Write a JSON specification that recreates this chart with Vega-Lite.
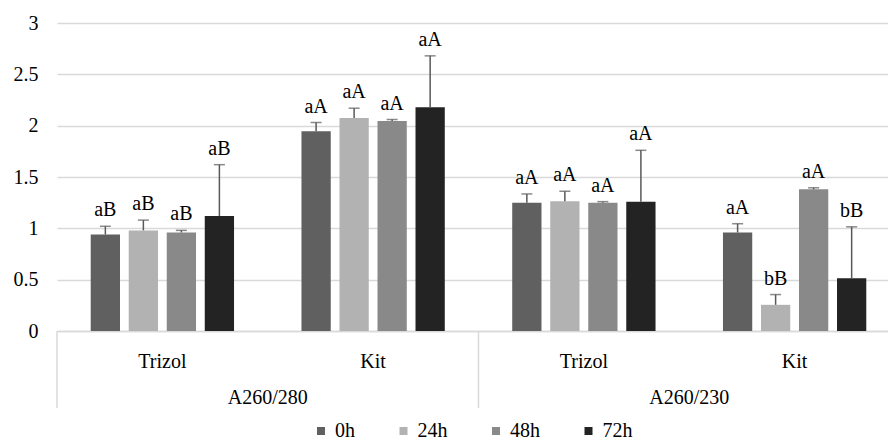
{
  "$schema": "https://vega.github.io/schema/vega-lite/v6.json",
  "width": 831,
  "height": 308,
  "autosize": {"type": "none"},
  "padding": {"left": 57, "top": 23, "right": 0, "bottom": 114},
  "background": "white",
  "config": {
    "font": "Liberation Serif, Times New Roman, serif",
    "view": {"stroke": null},
    "axis": {"labelFont": "Liberation Serif, Times New Roman, serif", "labelFontSize": 20, "labelColor": "#000000"},
    "legend": {"labelFont": "Liberation Serif, Times New Roman, serif", "labelFontSize": 20, "labelColor": "#000000"},
    "text": {"font": "Liberation Serif, Times New Roman, serif"}
  },
  "layer": [
    {
      "data": {
        "values": [
          {"group": "A260/280", "method": "Trizol", "time": "0h", "value": 0.94, "err": 1.02, "label": "aB"},
          {"group": "A260/280", "method": "Trizol", "time": "24h", "value": 0.98, "err": 1.08, "label": "aB"},
          {"group": "A260/280", "method": "Trizol", "time": "48h", "value": 0.96, "err": 0.98, "label": "aB"},
          {"group": "A260/280", "method": "Trizol", "time": "72h", "value": 1.12, "err": 1.62, "label": "aB"},
          {"group": "A260/280", "method": "Kit", "time": "0h", "value": 1.945, "err": 2.03, "label": "aA"},
          {"group": "A260/280", "method": "Kit", "time": "24h", "value": 2.075, "err": 2.17, "label": "aA"},
          {"group": "A260/280", "method": "Kit", "time": "48h", "value": 2.045, "err": 2.06, "label": "aA"},
          {"group": "A260/280", "method": "Kit", "time": "72h", "value": 2.18, "err": 2.68, "label": "aA"},
          {"group": "A260/230", "method": "Trizol", "time": "0h", "value": 1.25, "err": 1.335, "label": "aA"},
          {"group": "A260/230", "method": "Trizol", "time": "24h", "value": 1.265, "err": 1.36, "label": "aA"},
          {"group": "A260/230", "method": "Trizol", "time": "48h", "value": 1.25, "err": 1.26, "label": "aA"},
          {"group": "A260/230", "method": "Trizol", "time": "72h", "value": 1.26, "err": 1.76, "label": "aA"},
          {"group": "A260/230", "method": "Kit", "time": "0h", "value": 0.96, "err": 1.045, "label": "aA"},
          {"group": "A260/230", "method": "Kit", "time": "24h", "value": 0.255, "err": 0.355, "label": "bB"},
          {"group": "A260/230", "method": "Kit", "time": "48h", "value": 1.38, "err": 1.395, "label": "aA"},
          {"group": "A260/230", "method": "Kit", "time": "72h", "value": 0.515, "err": 1.015, "label": "bB"}
        ]
      },
      "transform": [{"calculate": "datum.group + '|' + datum.method", "as": "cat"}],
      "encoding": {
        "x": {
          "field": "cat",
          "type": "nominal",
          "sort": ["A260/280|Trizol", "A260/280|Kit", "A260/230|Trizol", "A260/230|Kit"],
          "scale": {"range": [0, 843], "paddingInner": 0, "paddingOuter": 0},
          "axis": {
            "title": null,
            "labelExpr": "split(datum.label, '|')[1]",
            "labelAngle": 0,
            "ticks": false,
            "domainColor": "#d9d9d9",
            "domainWidth": 1.5,
            "labelPadding": 20
          }
        },
        "xOffset": {
          "field": "time",
          "type": "nominal",
          "sort": ["0h", "24h", "48h", "72h"],
          "scale": {"paddingInner": 0.23, "paddingOuter": 0.887}
        }
      },
      "layer": [
        {
          "mark": {"type": "bar"},
          "encoding": {
            "y": {
              "field": "value",
              "type": "quantitative",
              "scale": {"domain": [0, 3], "nice": false},
              "axis": {
                "title": null,
                "values": [0, 0.5, 1, 1.5, 2, 2.5, 3],
                "format": "~g",
                "domain": false,
                "ticks": false,
                "grid": true,
                "gridColor": "#d9d9d9",
                "gridWidth": 1.3,
                "labelPadding": 19
              }
            },
            "color": {
              "field": "time",
              "type": "nominal",
              "sort": ["0h", "24h", "48h", "72h"],
              "scale": {"domain": ["0h", "24h", "48h", "72h"], "range": ["#606060", "#b2b2b2", "#898989", "#232323"]},
              "legend": {
                "orient": "none",
                "legendX": 254,
                "legendY": 398,
                "direction": "horizontal",
                "title": null,
                "symbolType": "square",
                "symbolSize": 64,
                "symbolStrokeWidth": 0,
                "labelOffset": 4,
                "columnPadding": 38.5,
                "padding": 0
              }
            }
          }
        },
        {
          "mark": {"type": "rule", "color": "#595959", "strokeWidth": 1.5},
          "encoding": {
            "y": {"field": "value", "type": "quantitative"},
            "y2": {"field": "err"}
          }
        },
        {
          "mark": {"type": "tick", "color": "#595959", "thickness": 1.5, "size": 11, "orient": "horizontal"},
          "encoding": {
            "y": {"field": "err", "type": "quantitative"}
          }
        },
        {
          "mark": {"type": "text", "dy": -10, "baseline": "alphabetic", "fontSize": 20, "font": "Liberation Serif, Times New Roman, serif", "color": "#000000"},
          "encoding": {
            "y": {"field": "err", "type": "quantitative"},
            "text": {"field": "label"}
          }
        }
      ]
    },
    {
      "data": {"values": [{"group": "A260/280"}, {"group": "A260/230"}]},
      "mark": {"type": "rule", "color": "#d9d9d9", "strokeWidth": 1.5},
      "encoding": {
        "x": {
          "field": "group",
          "type": "nominal",
          "sort": ["A260/280", "A260/230"],
          "bandPosition": 0,
          "scale": {"range": [0, 843], "paddingInner": 0, "paddingOuter": 0},
          "axis": {
            "orient": "bottom",
            "title": null,
            "domain": false,
            "ticks": false,
            "grid": false,
            "labelAngle": 0,
            "labelPadding": 56
          }
        },
        "y": {"datum": 0, "scale": {"domain": [0, 3], "nice": false}},
        "y2": {"datum": -0.75}
      }
    }
  ],
  "resolve": {"scale": {"x": "independent"}, "axis": {"x": "independent"}}
}
